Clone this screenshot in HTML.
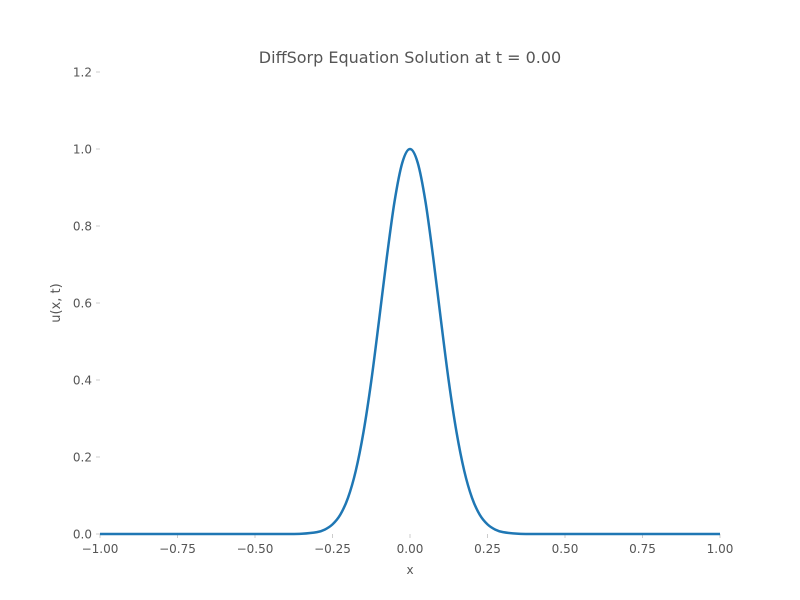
<!DOCTYPE html>
<html><head><meta charset="utf-8"><style>
html,body{margin:0;padding:0;background:#fff;}
svg{display:block;font-family:"DejaVu Sans","Liberation Sans",sans-serif;}
</style></head><body>
<svg id="chart" width="800" height="600">
<text x="410" y="63" text-anchor="middle" font-size="16" fill="#555">DiffSorp Equation Solution at t = 0.00</text>
<text x="410" y="574" text-anchor="middle" font-size="12" fill="#555">x</text>
<text x="0" y="0" transform="translate(60,303) rotate(-90)" text-anchor="middle" font-size="13" fill="#555">u(x, t)</text>
<g id="ticks"></g>
<g id="plot"></g>
</svg>
<script>
const xTicks=[-1,-0.75,-0.5,-0.25,0,0.25,0.5,0.75,1];
const xTickLabels=["\u22121.00","\u22120.75","\u22120.50","\u22120.25","0.00","0.25","0.50","0.75","1.00"];
const yTicks=[0,0.2,0.4,0.6,0.8,1.0,1.2];
const yTickLabels=["0.0","0.2","0.4","0.6","0.8","1.0","1.2"];
const xs=[-1,-0.5,-0.4,-0.35,-0.3,-0.275,-0.25,-0.225,-0.2,-0.175,-0.15,-0.125,-0.1,-0.075,-0.05,-0.025,0,0.025,0.05,0.075,0.1,0.125,0.15,0.175,0.2,0.225,0.25,0.275,0.3,0.35,0.4,0.5,1];
const us=[0,0,0.0001,0.0007,0.0049,0.0115,0.025,0.05,0.094,0.164,0.265,0.397,0.554,0.717,0.863,0.964,1,0.964,0.863,0.717,0.554,0.397,0.265,0.164,0.094,0.05,0.025,0.0115,0.0049,0.0007,0.0001,0,0];
const NS="http://www.w3.org/2000/svg";
const X=v=>100+(v+1)*310, Y=v=>534-v/1.2*462;
const tg=document.getElementById('ticks');
function mk(t,a,p){const e=document.createElementNS(NS,t);for(const k in a)e.setAttribute(k,a[k]);p.appendChild(e);return e;}
xTicks.forEach((v,i)=>{
 const l=mk('line',{x1:X(v),x2:X(v),y1:534,y2:538,stroke:'#ccc'},tg);
 
 
 const t=mk('text',{x:X(v),y:553,'text-anchor':'middle','font-size':12,fill:'#555'},tg);
 t.textContent=xTickLabels[i];
 
 
});
yTicks.forEach((v,i)=>{
 const l=mk('line',{x1:96,x2:100,y1:Y(v),y2:Y(v),stroke:'#ccc'},tg);
 
 
 const t=mk('text',{x:92,y:Y(v)+4.5,'text-anchor':'end','font-size':12,fill:'#555'},tg);
 t.textContent=yTickLabels[i];
 
 
});
// Catmull-Rom smooth path
const P=xs.map((x,i)=>[X(x),Y(us[i])]);
let d='M'+P[0][0]+','+P[0][1];
for(let i=0;i<P.length-1;i++){
 const p0=P[Math.max(0,i-1)],p1=P[i],p2=P[i+1],p3=P[Math.min(P.length-1,i+2)];
 const c1=[p1[0]+(p2[0]-p0[0])/6,p1[1]+(p2[1]-p0[1])/6];
 const c2=[p2[0]-(p3[0]-p1[0])/6,p2[1]-(p3[1]-p1[1])/6];
 if(p1[1]===p2[1]){d+=' L'+p2[0]+','+p2[1];continue;}
 d+=' C'+c1[0]+','+Math.min(c1[1],534)+' '+c2[0]+','+Math.min(c2[1],534)+' '+p2[0]+','+p2[1];
}
const line=mk('path',{d:d,fill:'none',stroke:'#1f77b4','stroke-width':2.5},document.getElementById('plot'));


</script>
</body></html>
